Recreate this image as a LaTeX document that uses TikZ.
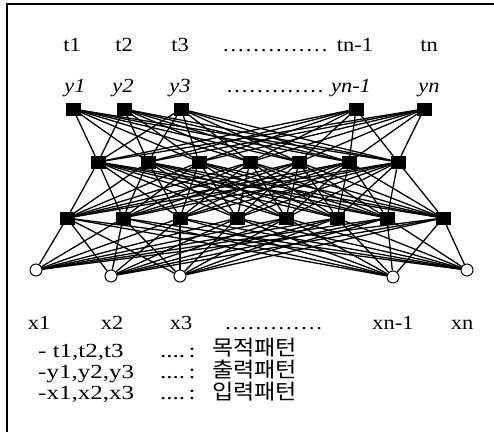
\documentclass[tikz,border=0pt]{standalone}
\usepackage{fontspec}
\setmainfont{Liberation Serif}[FakeStretch=1.12]
\newfontfamily\legendfont{Liberation Serif}[FakeStretch=1.25]
\newfontfamily\krfont{Noto Sans CJK KR}[FakeStretch=1.1]
\usetikzlibrary{positioning}

\newcommand{\dotrun}[1]{\makebox[#1]{\cleaders\hbox to 7.6pt{\hss.\hss}\hfill}}

\begin{document}
\begin{tikzpicture}[x=1pt, y=-1pt,
    unit/.style={draw, rectangle, fill=black, minimum width=14pt, minimum height=12pt, inner sep=0pt},
    inunit/.style={draw, circle, fill=white, minimum size=12pt, inner sep=0pt, line width=1pt},
    edge/.style={line width=1.3pt, draw=black},
    label/.style={anchor=base, inner sep=0pt, font=\fontsize{20}{22}\selectfont},
    ylabel/.style={label, font=\fontsize{20}{22}\selectfont\itshape},
    legend/.style={anchor=base west, inner sep=0pt, font=\fontsize{20}{21}\legendfont},
    krlegend/.style={legend, font=\fontsize{21}{23}\krfont},
]

\useasboundingbox (0,0) rectangle (494,432);

% Frame (scan shows only top and left edges)
\draw[line width=1.4pt] (7,432) -- (7,4) -- (494,4);

% Target row
\node[label] (lt1) at (72,51) {t1};
\node[label] (lt2) at (124,51) {t2};
\node[label] (lt3) at (180,51) {t3};
\node[label, anchor=base west] (ltdots) at (220,51) {\dotrun{110pt}};
\node[label] (ltn1) at (355,51) {tn-1};
\node[label] (ltn) at (429,51) {tn};

% Output row
\node[ylabel] (ly1) at (75,92) {y1};
\node[ylabel] (ly2) at (123,92) {y2};
\node[ylabel] (ly3) at (180,92) {y3};
\node[label, anchor=base west] (lydots) at (222,92) {\dotrun{106pt}};
\node[ylabel] (lyn1) at (351,92) {yn-1};
\node[ylabel] (lyn) at (429,92) {yn};

% Output layer
\node[unit] (out1) at (73,109) {};
\node[unit] (out2) at (124,109) {};
\node[unit] (out3) at (181,109) {};
\node[unit] (out4) at (356,109) {};
\node[unit] (out5) at (424,109) {};

% Hidden layer 2
\node[unit] (hidB1) at (98,162) {};
\node[unit] (hidB2) at (148,162) {};
\node[unit] (hidB3) at (199,162) {};
\node[unit] (hidB4) at (250,162) {};
\node[unit] (hidB5) at (299,162) {};
\node[unit] (hidB6) at (349,162) {};
\node[unit] (hidB7) at (398,162) {};

% Hidden layer 1
\node[unit] (hidA1) at (67,218) {};
\node[unit] (hidA2) at (123,218) {};
\node[unit] (hidA3) at (180,218) {};
\node[unit] (hidA4) at (237,218) {};
\node[unit] (hidA5) at (286,218) {};
\node[unit] (hidA6) at (337,218) {};
\node[unit] (hidA7) at (387,218) {};
\node[unit] (hidA8) at (443,218) {};

% Input layer
\node[inunit] (in1) at (36,270) {};
\node[inunit] (in2) at (111,276) {};
\node[inunit] (in3) at (180,276) {};
\node[inunit] (in4) at (393,277) {};
\node[inunit] (in5) at (467,270) {};

% Connections
\foreach \i in {1,...,5}
  \foreach \j in {1,...,7}
    \draw[edge] (out\i) -- (hidB\j);
\foreach \i in {1,...,7}
  \foreach \j in {1,...,8}
    \draw[edge] (hidB\i) -- (hidA\j);
\foreach \i in {1,...,8}
  \foreach \j in {1,...,5}
    \draw[edge] (hidA\i) -- (in\j);

% Input row
\node[label] (lx1) at (39,329) {x1};
\node[label] (lx2) at (112,329) {x2};
\node[label] (lx3) at (181,329) {x3};
\node[label, anchor=base west] (lxdots) at (222,329) {\dotrun{103pt}};
\node[label] (lxn1) at (393,329) {xn-1};
\node[label] (lxn) at (462,329) {xn};

% Legend
\node[legend] (kt) at (38,357) {- t1,t2,t3};
\node[legend] (ky) at (38,378) {-y1,y2,y3};
\node[legend] (kx) at (38,399) {-x1,x2,x3};
\node[legend] (kdt) at (160,357) {....\,:};
\node[legend] (kdy) at (160,378) {....\,:};
\node[legend] (kdx) at (160,399) {....\,:};
\node[krlegend] (kkt) at (212,355) {목적패턴};
\node[krlegend] (kky) at (212,377) {출력패턴};
\node[krlegend] (kkx) at (212,399) {입력패턴};

\end{tikzpicture}
\end{document}
